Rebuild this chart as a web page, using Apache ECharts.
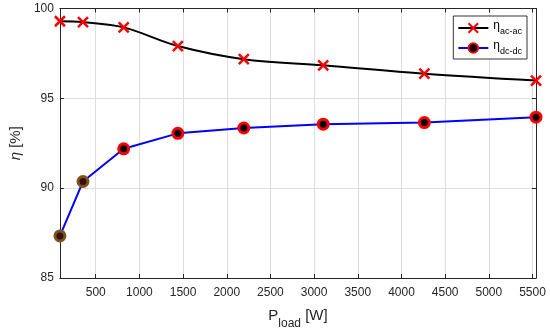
<!DOCTYPE html>
<html>
<head>
<meta charset="utf-8">
<script src="https://cdn.jsdelivr.net/npm/echarts@6/dist/echarts.min.js"></script>
<style>html,body{margin:0;padding:0;background:#fff}#c{width:550px;height:335px}</style>
</head>
<body>
<div id="c"></div>
<script>
const pLoad = [90, 354, 820, 1440, 2195, 3104, 4262, 5540];
const etaAcAc = [99.29, 99.24, 98.95, 97.91, 97.18, 96.84, 96.37, 95.99];
const etaDcDc = [87.34, 90.37, 92.19, 93.05, 93.35, 93.56, 93.65, 93.95];
const xTicks = [500, 1000, 1500, 2000, 2500, 3000, 3500, 4000, 4500, 5000, 5500];
const yTicks = [85, 90, 95, 100];

const FONT = 'Liberation Sans';
const TXT = '#262626';
const X_MIN = 90, X_MAX = 5540;

const acData = pLoad.map((x, i) => [x, etaAcAc[i]]);
const dcData = pLoad.map((x, i) => {
  const d = { value: [x, etaDcDc[i]] };
  if (i < 2) d.itemStyle = { color: '#3a0f08', borderColor: '#7a5520' };
  return d;
});

const chart = echarts.init(document.getElementById('c'), null, { renderer: 'canvas' });
const gridStyle = { show: true, lineStyle: { color: '#dedede', width: 1 } };
const axisLine = { show: true, lineStyle: { color: '#262626', width: 1 } };

chart.setOption({
  animation: false,
  backgroundColor: '#fff',
  textStyle: { fontFamily: FONT },
  grid: { left: 49, right: 14, top: 8.5, bottom: 47, containLabel: false },
  xAxis: [{
    type: 'value', min: X_MIN, max: X_MAX, position: 'bottom',
    axisLine: axisLine,
    axisTick: { show: true, inside: true, length: 4, customValues: xTicks, lineStyle: { color: '#262626' } },
    axisLabel: { show: true, customValues: xTicks, color: TXT, fontSize: 12, fontFamily: FONT, margin: 9,
      formatter: function (v) { return String(v); } },
    splitLine: gridStyle,
    name: '{m|P}{s|load}{m| [W]}',
    nameLocation: 'middle', nameGap: 30,
    nameTextStyle: {
      rich: {
        m: { fontSize: 15, fontFamily: FONT, color: TXT, verticalAlign: 'top', lineHeight: 22 },
        s: { fontSize: 12, fontFamily: FONT, color: TXT, verticalAlign: 'bottom', lineHeight: 22, padding: [10, 0, 0, 0] }
      }
    }
  }, {
    type: 'value', min: X_MIN, max: X_MAX, position: 'top',
    axisLine: axisLine,
    axisTick: { show: true, inside: true, length: 4, customValues: xTicks, lineStyle: { color: '#262626' } },
    axisLabel: { show: false, customValues: xTicks },
    splitLine: { show: false }
  }],
  yAxis: [{
    type: 'value', min: 85, max: 100, interval: 5, position: 'left',
    axisLine: axisLine,
    axisTick: { show: true, inside: true, length: 4, lineStyle: { color: '#262626' } },
    axisLabel: { color: TXT, fontSize: 12, fontFamily: FONT, margin: 6 },
    splitLine: gridStyle,
    name: '{i|η}{n| [%]}',
    nameLocation: 'middle', nameGap: 29, nameRotate: 90,
    nameTextStyle: {
      fontSize: 15, color: TXT, fontFamily: FONT,
      rich: {
        i: { fontSize: 15, fontStyle: 'italic', color: TXT, fontFamily: FONT },
        n: { fontSize: 15, color: TXT, fontFamily: FONT }
      }
    }
  }, {
    type: 'value', min: 85, max: 100, interval: 5, position: 'right',
    axisLine: axisLine,
    axisTick: { show: true, inside: true, length: 4, lineStyle: { color: '#262626' } },
    axisLabel: { show: false },
    splitLine: { show: false }
  }],
  legend: {
    orient: 'vertical', right: 23, top: 16,
    padding: [4, 5, 3, 4], itemGap: 4, itemWidth: 30, itemHeight: 12,
    borderColor: '#000', borderWidth: 0.8, backgroundColor: '#fff', borderRadius: 0,
    data: ['ac', 'dc'],
    formatter: function (n) { return '{e|η}{s|' + (n === 'ac' ? 'ac-ac' : 'dc-dc') + '}'; },
    textStyle: {
      rich: {
        e: { fontSize: 12, fontFamily: FONT, color: '#000', verticalAlign: 'top', lineHeight: 16 },
        s: { fontSize: 9, fontFamily: FONT, color: '#000', verticalAlign: 'bottom', lineHeight: 16, padding: [6, 0, 0, 0] }
      }
    }
  },
  series: [{
    name: 'ac', type: 'line', xAxisIndex: 0, yAxisIndex: 0,
    data: acData, smooth: 0.35,
    lineStyle: { color: '#000', width: 2 },
    symbol: 'path://M0,0L10,10M0,10L10,0', symbolSize: 10, showAllSymbol: true,
    itemStyle: { color: 'rgba(0,0,0,0)', borderColor: '#ff0000', borderWidth: 2.5 },
    z: 3
  }, {
    name: 'dc', type: 'line', xAxisIndex: 0, yAxisIndex: 0,
    data: dcData,
    lineStyle: { color: '#0000ff', width: 2 },
    symbol: 'circle', symbolSize: 10, showAllSymbol: true,
    itemStyle: { color: '#000', borderColor: '#ff0000', borderWidth: 3 },
    z: 3
  }]
});
</script>
</body>
</html>
